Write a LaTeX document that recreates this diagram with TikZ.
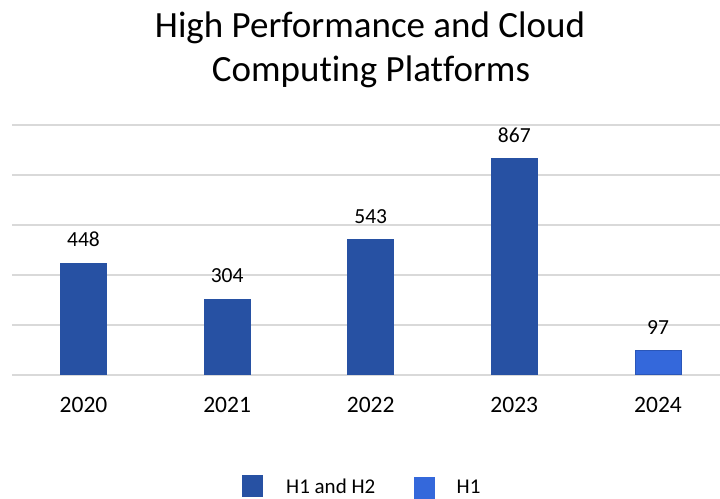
\documentclass[tikz,border=0pt]{standalone}
\usepackage{fontspec}
\setmainfont{Carlito}[Ligatures={NoCommon}]
\definecolor{barblue}{HTML}{2751A3}
\definecolor{hone}{HTML}{3468DB}
\definecolor{honeedge}{HTML}{2A56B8}
\definecolor{gridgray}{HTML}{D9D9D9}
\tikzset{
  vallabel/.style={anchor=base,inner sep=0pt,font=\fontsize{21.5bp}{26bp}\selectfont},
  yrlabel/.style={anchor=base,inner sep=0pt,font=\fontsize{23.5bp}{28bp}\selectfont},
  leglabel/.style={anchor=base west,inner sep=0pt,font=\fontsize{21bp}{25bp}\selectfont},
  titlelabel/.style={anchor=base,inner sep=0pt,font=\fontsize{37bp}{44bp}\selectfont}
}
\begin{document}
\begin{tikzpicture}[x=1bp,y=-1bp]
\useasboundingbox (0,0) rectangle (720,499);
% title
\node[titlelabel] (title1) at (370,38) {High Performance and Cloud};
\node[titlelabel] (title2) at (371,82) {Computing Platforms};
% grid
\foreach \g in {125,175,225,275,325,375}
  \draw[gridgray,line width=1.5bp] (12,\g) -- (720,\g);
% bars
\foreach \i/\yr/\val in {0/2020/448,1/2021/304,2/2022/543,3/2023/867}{
  \fill[barblue] (60+143.6*\i,375) rectangle (107+143.6*\i,375-\val/4);
  \node[vallabel] (v\yr) at (83.5+143.6*\i,375-\val/4-16) {\val};
  \node[yrlabel] (y\yr) at (83.5+143.6*\i,412.5) {\yr};
}
\filldraw[fill=hone,draw=honeedge,line width=1bp] (635,374.5) rectangle (681,350.75);
\node[vallabel] (v2024) at (658,334.5) {97};
\node[yrlabel] (y2024) at (658,412.5) {2024};
% legend
\fill[barblue] (242,475) rectangle (263,497);
\node[leglabel] (lg1) at (286,493.5) {H1 and H2};
\fill[hone] (414,476.5) rectangle (435,498.5);
\node[leglabel] (lg2) at (456.5,493.5) {H1};
\end{tikzpicture}
\end{document}
